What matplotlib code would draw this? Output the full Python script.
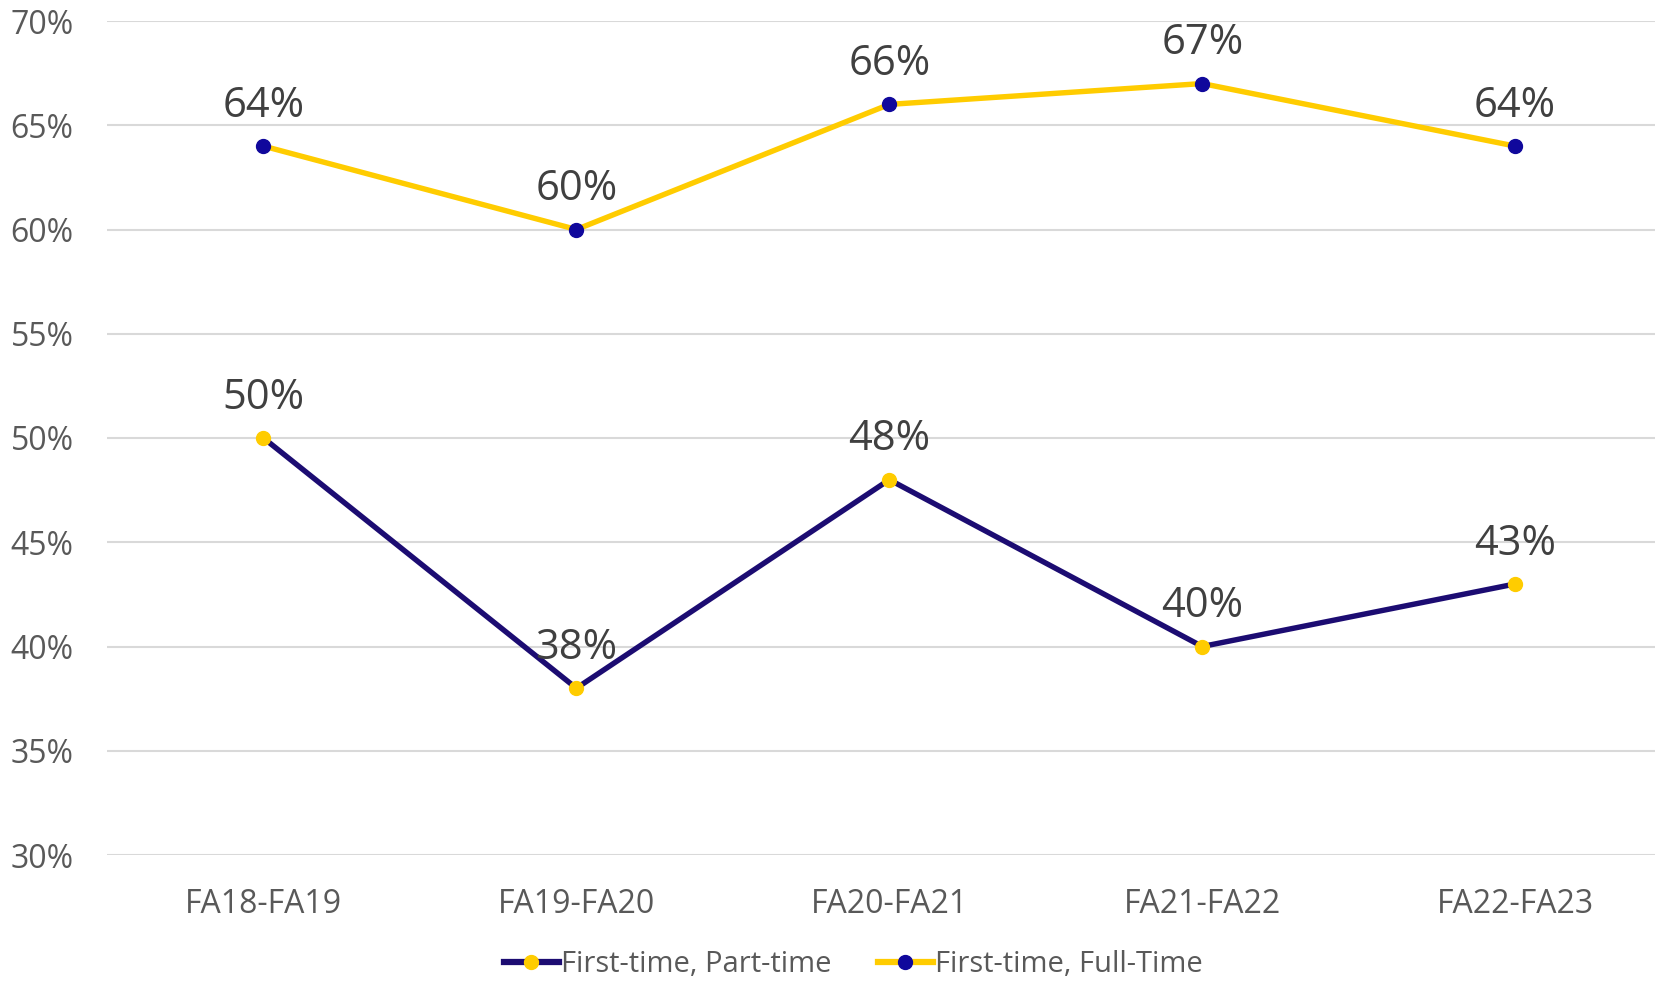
import matplotlib
matplotlib.use("Agg")
import matplotlib.pyplot as plt
from matplotlib.lines import Line2D

categories = ["FA18-FA19", "FA19-FA20", "FA20-FA21", "FA21-FA22", "FA22-FA23"]
part_time = [0.50, 0.38, 0.48, 0.40, 0.43]
full_time = [0.64, 0.60, 0.66, 0.67, 0.64]
yticks = [0.30, 0.35, 0.40, 0.45, 0.50, 0.55, 0.60, 0.65, 0.70]
series_names = ["First-time, Part-time", "First-time, Full-Time"]

YELLOW = "#FFCC00"
NAVY_LINE = "#1C0C72"
NAVY_MARK = "#10089C"

plt.rcParams['font.family'] = ['Open Sans', 'DejaVu Sans']

fig = plt.figure(figsize=(16.56, 9.83), dpi=100)
ax = fig.add_axes([107/1656, 1 - 855/983, 1 - 107/1656, (855 - 21)/983])

x = list(range(len(categories)))
ax.plot(x, part_time, color=NAVY_LINE, lw=3.9, marker='o', ms=10,
        mfc=YELLOW, mec=YELLOW, zorder=3, solid_capstyle='round')
ax.plot(x, full_time, color=YELLOW, lw=3.9, marker='o', ms=10,
        mfc=NAVY_MARK, mec=NAVY_MARK, zorder=3, solid_capstyle='round')

for series in (part_time, full_time):
    for xi, v in zip(x, series):
        ax.annotate(f"{round(v*100)}%", (xi, v), xytext=(0, 14), textcoords='offset points',
                    ha='center', va='bottom', fontsize=30, color='#404040', zorder=4)

ax.set_xlim(-0.5, 4.45)
ax.set_ylim(0.30, 0.70)
ax.set_yticks(yticks)
ax.set_yticklabels([f"{round(t*100)}%" for t in yticks])
ax.set_xticks(x)
ax.set_xticklabels(categories)
ax.tick_params(axis='y', length=0, pad=24, labelsize=23, labelcolor='#595959')
ax.tick_params(axis='x', length=0, pad=24, labelsize=23, labelcolor='#595959')
ax.grid(axis='y', color='#D9D9D9', lw=1.5)
ax.set_axisbelow(True)
for s in ax.spines.values():
    s.set_visible(False)

handles = [
    Line2D([], [], color=NAVY_LINE, lw=4.5, marker='o', ms=10, mfc=YELLOW, mec=YELLOW),
    Line2D([], [], color=YELLOW, lw=4.5, marker='o', ms=10, mfc=NAVY_MARK, mec=NAVY_MARK),
]
leg = fig.legend(handles, series_names, loc='center', bbox_to_anchor=(853/1656, 1 - 965/983),
                 ncol=2, frameon=False, fontsize=21, handlelength=1.9, handletextpad=0.05,
                 columnspacing=1.6, labelcolor='#595959')

fig.savefig("out.png", dpi=100)
